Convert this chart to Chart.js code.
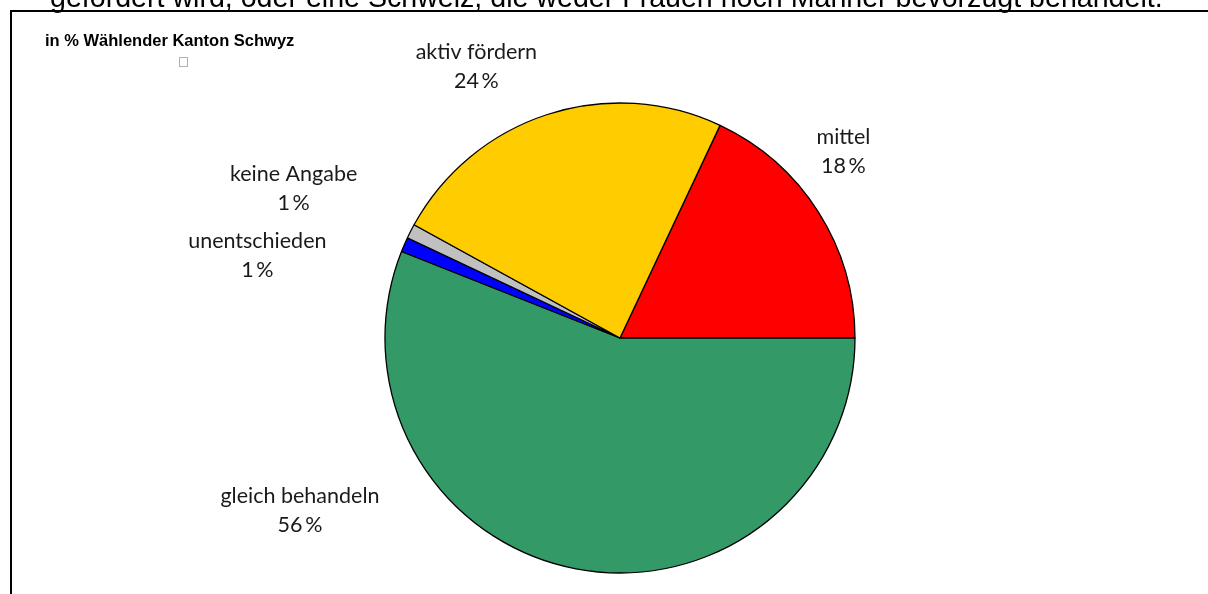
<!DOCTYPE html>
<html>
<head>
<meta charset="utf-8">
<script src="https://cdn.jsdelivr.net/npm/chart.js@4/dist/chart.umd.min.js"></script>
<style>
  html, body { margin: 0; padding: 0; background: #fff; }
  canvas { display: block; }
</style>
</head>
<body>
<canvas id="pieSchwyz" width="1208" height="594"></canvas>
<script>
const categories = ['mittel', 'gleich behandeln', 'unentschieden', 'keine Angabe', 'aktiv fördern'];
const shares = [18, 56, 1, 1, 24]; // % Wählende
const sliceColors = ['#ff0000', '#339966', '#0000ff', '#c0c0c0', '#ffcc00'];
// nudges for the outside labels, relative to the rim at each slice's middle
const labelNudge = [[25, -61], [-276, -59], [-147, 10], [-117, -43], [-71, -48]];

const headline = 'gefördert wird, oder eine Schweiz, die weder Frauen noch Männer bevorzugt behandelt.';
const subTitle = 'in % Wählender Kanton Schwyz';

const framePlugin = {
    id: 'frame',
    afterDraw(chart) {
        const c = chart.ctx;
        c.save();
        // cut-off sentence above the frame
        let size = 26;
        c.font = size + 'px "Liberation Sans", Arial, sans-serif';
        const w = c.measureText(headline).width;
        size = size * 1113 / w;
        c.font = size.toFixed(2) + 'px "Liberation Sans", Arial, sans-serif';
        c.fillStyle = '#000';
        c.textBaseline = 'alphabetic';
        c.textAlign = 'left';
        c.fillText(headline, 50, 7);

        // frame
        c.strokeStyle = '#000';
        c.lineWidth = 2;
        c.beginPath();
        c.moveTo(11, 594);
        c.lineTo(11, 11);
        c.lineTo(1208, 11);
        c.stroke();

        c.font = 'bold 16.5px "Liberation Sans", Arial, sans-serif';
        c.fillText(subTitle, 45, 46);

        c.strokeStyle = '#b0b0b0';
        c.lineWidth = 1;
        c.strokeRect(179.5, 57.5, 8, 9);
        c.restore();
    }
};

const sliceLabels = {
    id: 'sliceLabels',
    afterDatasetsDraw(chart) {
        const c = chart.ctx;
        const meta = chart.getDatasetMeta(0);
        c.save();
        c.font = '21.5px Lato, "Open Sans", sans-serif';
        c.fillStyle = '#1a1a1a';
        c.textAlign = 'center';
        c.textBaseline = 'middle';
        meta.data.forEach((arc, i) => {
            const p = arc.getProps(['x', 'y', 'startAngle', 'endAngle', 'outerRadius'], true);
            const mid = (p.startAngle + p.endAngle) / 2;
            const cx = p.x + Math.cos(mid) * p.outerRadius + labelNudge[i][0];
            const cy = p.y + Math.sin(mid) * p.outerRadius + labelNudge[i][1];
            c.fillText(categories[i], cx, cy - 14);
            c.fillText(shares[i] + '\u2009%', cx, cy + 15);
        });
        c.restore();
    }
};

const pieChart = new Chart(document.getElementById('pieSchwyz'), {
    type: 'pie',
    data: {
        labels: categories,
        datasets: [{
            data: shares,
            backgroundColor: sliceColors,
            borderColor: '#000',
            borderWidth: 1.3,
            radius: 235
        }]
    },
    options: {
        responsive: false,
        animation: false,
        rotation: 25.2,
        layout: { padding: { top: 103, bottom: 21, left: 320, right: 288 } },
        plugins: {
            legend: { display: false },
            tooltip: { enabled: false }
        }
    },
    plugins: [sliceLabels, framePlugin]
});
</script>
</body>
</html>
